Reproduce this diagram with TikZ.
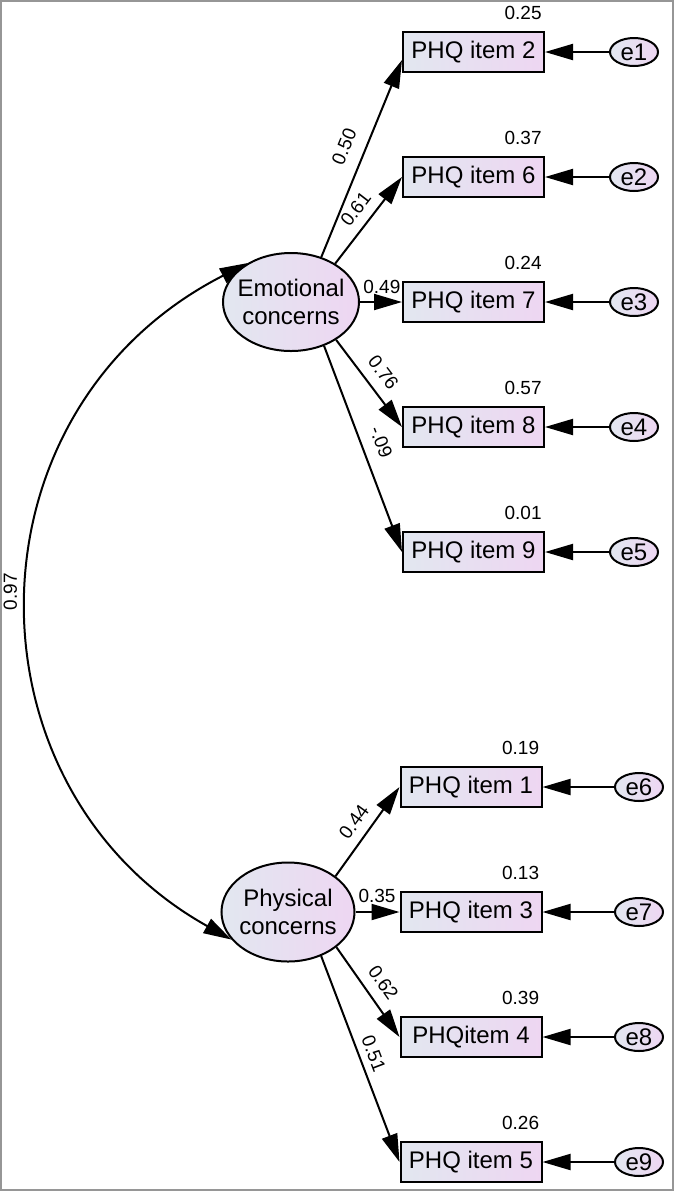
\documentclass[tikz,border=0pt]{standalone}
\usepackage{fontspec}
\setmainfont{Liberation Sans}
\usetikzlibrary{arrows.meta,shapes.geometric,calc}
\definecolor{boxL}{RGB}{226,231,240}
\definecolor{boxR}{RGB}{238,214,242}
\definecolor{frameC}{RGB}{150,150,150}
\begin{document}
\begin{tikzpicture}[x=0.5pt,y=-0.5pt,
  obs/.style={draw, line width=1pt, rectangle, minimum width=70.5pt, minimum height=20pt, inner sep=0pt, left color=boxL, right color=boxR, font=\fontsize{12}{14}\selectfont},
  err/.style={draw, line width=1pt, ellipse, minimum width=24pt, minimum height=14pt, inner sep=0pt, left color=boxL, right color=boxR, font=\fontsize{12}{14}\selectfont},
  lat/.style={draw, line width=1pt, ellipse, minimum width=68pt, minimum height=49pt, inner sep=0pt, left color=boxL, right color=boxR},
  lattext/.style={align=center, font=\fontsize{12}{14}\selectfont},
  load/.style={draw, line width=1pt, -{Triangle[length=14pt,width=8pt]}},
  cov/.style={draw, line width=1pt, {Triangle[length=14pt,width=8pt]}-{Triangle[length=14pt,width=8pt]}},
  coef/.style={font=\fontsize{9.5}{11}\selectfont, sloped},
  rsq/.style={font=\fontsize{9.5}{11}\selectfont, anchor=south east, inner sep=0pt}
]
\useasboundingbox (0,0) rectangle (674,1191);
\draw[frameC, line width=1pt] (1,1) rectangle (673,1190);

% latent variables
\node[lat] (emo) at (291,302) {};
\node[lattext] (emotext) at (emo.center) {Emotional\\concerns};
\node[lat, minimum width=66.5pt, minimum height=49.5pt] (phy) at (288,912) {};
\node[lattext] (phytext) at (phy.center) {Physical\\concerns};

% observed variables (emotional)
\node[obs] (i2) at (473.5,52) {PHQ item 2};
\node[obs] (i6) at (473.5,177) {PHQ item 6};
\node[obs] (i7) at (473.5,302) {PHQ item 7};
\node[obs] (i8) at (473.5,427) {PHQ item 8};
\node[obs] (i9) at (473.5,552) {PHQ item 9};
% observed variables (physical)
\node[obs] (i1) at (471,787) {PHQ item 1};
\node[obs] (i3) at (471,912) {PHQ item 3};
\node[obs] (i4) at (471,1037) {PHQitem 4};
\node[obs] (i5) at (471,1162) {PHQ item 5};

% errors
\node[err] (e1) at (634,52) {e1};
\node[err] (e2) at (634,177) {e2};
\node[err] (e3) at (634,302) {e3};
\node[err] (e4) at (634,427) {e4};
\node[err] (e5) at (634,552) {e5};
\node[err] (e6) at (639,787) {e6};
\node[err] (e7) at (639,912) {e7};
\node[err] (e8) at (639,1037) {e8};
\node[err] (e9) at (639,1162) {e9};

% R squared
\node[rsq] (r2) at ([xshift=-1.5pt,yshift=5.5pt]i2.north east) {0.25};
\node[rsq] (r6) at ([xshift=-1.5pt,yshift=5.5pt]i6.north east) {0.37};
\node[rsq] (r7) at ([xshift=-1.5pt,yshift=5.5pt]i7.north east) {0.24};
\node[rsq] (r8) at ([xshift=-1.5pt,yshift=5.5pt]i8.north east) {0.57};
\node[rsq] (r9) at ([xshift=-1.5pt,yshift=5.5pt]i9.north east) {0.01};
\node[rsq] (r1) at ([xshift=-1.5pt,yshift=5.5pt]i1.north east) {0.19};
\node[rsq] (r3) at ([xshift=-1.5pt,yshift=5.5pt]i3.north east) {0.13};
\node[rsq] (r4) at ([xshift=-1.5pt,yshift=5.5pt]i4.north east) {0.39};
\node[rsq] (r5) at ([xshift=-1.5pt,yshift=5.5pt]i5.north east) {0.26};

% error paths
\foreach \e/\i in {e1/i2,e2/i6,e3/i7,e4/i8,e5/i9,e6/i1,e7/i3,e8/i4,e9/i5}
  \draw[load] (\e.west) -- (\i.east);

% loadings
\draw[load] (emo.56) -- node[coef, pos=0.52, above=3.2pt] {0.50} ([yshift=-4pt]i2.west);
\draw[load] (emo.41) -- node[coef, pos=0.51, above=1.4pt] {0.61} (i6.west);
\draw[load] (emo.east) -- node[coef, pos=0.52, above=0.5pt] {0.49} (i7.west);
\draw[load] (emo.-40) -- node[coef, pos=0.5, above=1.8pt] {0.76} (i8.west);
\draw[load] (emo.-53.5) -- node[coef, pos=0.5, above=2.5pt] {-.09} (i9.west);

\draw[load] (phy.37) -- node[coef, pos=0.5, above=1.2pt] {0.44} (i1.west);
\draw[load] (phy.east) -- node[coef, pos=0.49, above=1pt] {0.35} (i3.west);
\draw[load] (phy.-36) -- node[coef, pos=0.51, above=1.8pt] {0.62} (i4.west);
\draw[load] (phy.-53) -- node[coef, pos=0.5, above=0pt] {0.51} (i5.west);

% covariance
\draw[cov] (emo.138) .. controls (-40,410) and (-40,788) .. node[pos=0.49, rotate=90, anchor=south, inner ysep=6pt, font=\fontsize{9.5}{11}\selectfont] (c97) {0.97} (phy.206);
\end{tikzpicture}
\end{document}
